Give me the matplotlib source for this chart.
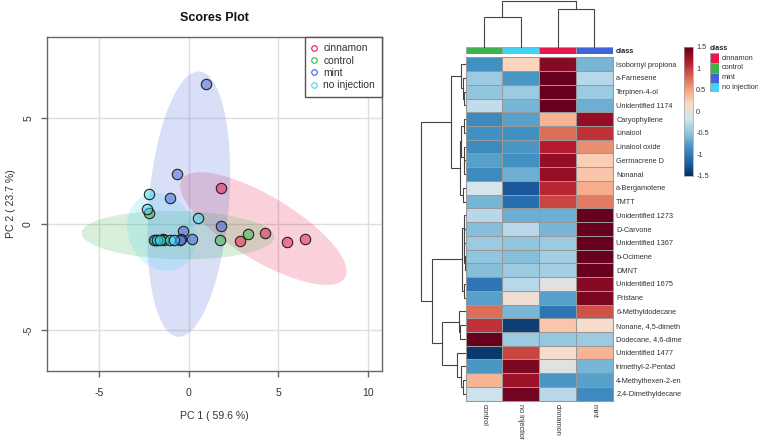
import numpy as np
import matplotlib
matplotlib.use("Agg")
import matplotlib.pyplot as plt
from matplotlib.colors import LinearSegmentedColormap
from matplotlib.lines import Line2D

plt.rcParams['font.family'] = ['Liberation Sans', 'DejaVu Sans']
plt.rcParams['axes.unicode_minus'] = False

W, H = 758, 440
classes = ["cinnamon", "control", "mint", "no injection"]
class_colors = ["#e6194B", "#3cb44b", "#4363d8", "#42d4f4"]

# scores: (PC1, PC2)
cinnamon_x = [1.79, 2.85, 4.28, 5.47, 6.50]
cinnamon_y = [1.73, -0.77, -0.41, -0.85, -0.68]
control_x = [-2.22, 1.77, 3.30, -1.45, -1.40, -1.88, -1.80]
control_y = [0.52, -0.74, -0.44, -0.69, -0.74, -0.72, -0.74]
mint_x = [0.98, -0.67, -1.03, 1.80, -0.30, 0.20, -0.43, -0.50]
mint_y = [6.64, 2.39, 1.25, -0.09, -0.33, -0.69, -0.69, -0.72]
noinj_x = [-2.20, -2.31, 0.50, -1.93, -1.78, -1.60, -1.05, -0.85]
noinj_y = [1.41, 0.72, 0.31, -0.74, -0.72, -0.72, -0.74, -0.74]

# ellipses: centre x, centre y, half-extent x, half-extent y, correlation
ell_cinnamon = (4.17, -0.20, 4.65, 2.66, -0.76)
ell_control = (-0.60, -0.51, 5.38, 1.14, -0.08)
ell_mint = (0.00, 0.95, 2.31, 6.26, 0.24)
ell_noinj = (-1.52, -0.36, 1.93, 1.84, -0.15)

# heatmap
col_labels = ["control", "no injection", "cinnamon", "mint"]
col_colors = ["#3cb44b", "#42d4f4", "#e6194B", "#4363d8"]
row_labels = ["Isobornyl propiona", "a-Farnesene", "Terpinen-4-ol", "Unidentified 1174",
              "Caryophyllene", "Linalool", "Linalool oxide", "Germacrene D", "Nonanal",
              "a-Bergamotene", "TMTT", "Unidentified 1273", "D-Carvone", "Unidentified 1367",
              "b-Ocimene", "DMNT", "Unidentified 1675", "Pristane", "6-Methyldodecane",
              "Nonane, 4,5-dimeth", "Dodecane, 4,6-dime", "Unidentified 1477",
              "trimethyl-2-Pentad", "4-Methylhexen-2-en", "2,4-Dimethyldecane"]
control_v = [-0.85, -0.45, -0.50, -0.25, -0.90, -0.85, -0.90, -0.75, -0.90, -0.12, -0.60, -0.30,
             -0.55, -0.45, -0.50, -0.55, -1.05, -0.75, 0.75, 1.05, 1.50, -1.45, -0.80, 0.40, -0.18]
noinj_v = [0.20, -0.80, -0.45, -0.60, -0.75, -0.85, -0.80, -0.85, -0.65, -1.25, -1.10, -0.65,
           -0.30, -0.50, -0.55, -0.45, -0.30, 0.08, -0.60, -1.40, -0.45, 0.95, 1.40, 1.25, 1.45]
cinnamon_v = [1.35, 1.50, 1.50, 1.50, 0.40, 0.75, 1.15, 1.30, 1.30, 1.10, 0.95, -0.65,
              -0.60, -0.45, -0.40, -0.40, -0.03, -0.75, -1.05, 0.30, -0.47, 0.12, -0.05, -0.80, -0.30]
mint_v = [-0.60, -0.30, -0.45, -0.65, 1.30, 1.05, 0.60, 0.25, 0.30, 0.45, 0.70, 1.50,
          1.50, 1.50, 1.50, 1.50, 1.35, 1.40, 0.90, 0.12, -0.45, 0.40, -0.60, -0.75, -0.90]
cbar_ticks = [1.5, 1, 0.5, 0, -0.5, -1, -1.5]
cbar_labels = ["1.5", "1", "0.5", "0", "-0.5", "-1", "-1.5"]

# dendrograms: (height, left, right); an int is a leaf
col_tree = (45.4, (29.4, 0, 1), (37.7, 2, 3))
row_tree = (44.3,
            (14.3,
             (4.3, 0, (1.8, 1, (0.6, 2, 3))),
             (5.5, (4.5, (1.2, 4, 5), (1.0, 6, (0.7, 7, 8))), (1.7, 9, 10))),
            (33.3,
             (3.3, (1.0, 11, (0.8, 12, (0.6, 13, (0.4, 14, 15)))), (1.0, 16, 17)),
             (23.3,
              (5.7, 18, (5.0, 19, 20)),
              (7.7, 21, (4.3, 22, (1.7, 23, 24))))))


def px_axes(x0, y0, x1, y1):
    return fig.add_axes([x0 / W, 1 - y1 / H, (x1 - x0) / W, (y1 - y0) / H])


fig = plt.figure(figsize=(W / 100, H / 100), dpi=100, facecolor="white")

# ------------------------------------------------------- scores plot
ax = px_axes(47, 36.7, 381.7, 371)
ax.set_xlim(-7.92, 10.78)
ax.set_ylim(-6.92, 8.85)
ax.set_axisbelow(True)
ax.grid(True, color="#dedede", lw=1.0)
t = np.linspace(0, 2 * np.pi, 300)
for e, c in zip([ell_cinnamon, ell_control, ell_mint, ell_noinj], class_colors):
    cx, cy, sx, sy, r = e
    ax.fill(cx + sx * np.cos(t), cy + sy * (r * np.cos(t) + np.sqrt(1 - r ** 2) * np.sin(t)),
            color=c, alpha=0.2, lw=0, zorder=1.5)
for xs, ys, c in zip([cinnamon_x, control_x, mint_x, noinj_x],
                     [cinnamon_y, control_y, mint_y, noinj_y], class_colors):
    ax.scatter(xs, ys, s=56, c=[matplotlib.colors.to_rgba(c, 0.5)],
               edgecolors="#222222", linewidths=0.8, zorder=3)
for s in ax.spines.values():
    s.set_color("#666666")
    s.set_linewidth(1.0)
ax.set_xticks([-5, 0, 5, 10])
ax.set_yticks([-5, 0, 5])
ax.tick_params(length=4, width=1, color="#666666", labelcolor="#333333", labelsize=7.6)
ax.tick_params(axis="x", pad=8)
ax.tick_params(axis="y", pad=6)
plt.setp(ax.get_yticklabels(), rotation=90, va="center")
fig.text(214 / W, 1 - 416 / H, "PC 1 ( 59.6 %)", fontsize=7.6, color="#333333", ha="center", va="center")
fig.text(11 / W, 1 - 204 / H, "PC 2 ( 23.7 %)", fontsize=7.6, color="#333333", ha="center", va="center", rotation=90)
fig.text(214 / W, 1 - 18 / H, "Scores Plot", fontsize=9, fontweight="bold",
         ha="center", va="center", color="#111111")
handles = [Line2D([], [], ls="", marker="o", mfc="none", mec=c, mew=0.8, ms=4) for c in class_colors]
leg = ax.legend(handles, classes, loc="upper right", bbox_to_anchor=(1, 1), borderaxespad=0,
                fontsize=7.4, fancybox=False, framealpha=1, edgecolor="#555555",
                labelspacing=0.22, handletextpad=0.75, borderpad=0.65, handlelength=0.35)
leg.get_frame().set_linewidth(1.0)
for tx in leg.get_texts():
    tx.set_color("#333333")
leg.set_zorder(5)

# ------------------------------------------------------- heatmap
cmap = LinearSegmentedColormap.from_list(
    "rb", ["#053061", "#2166AC", "#4393C3", "#92C5DE", "#D1E5F0",
           "#FDDBC7", "#F4A582", "#D6604D", "#B2182B", "#67001F"], N=256)
data = np.array([control_v, noinj_v, cinnamon_v, mint_v]).T
hx0, hx1, hy0, hy1 = 465.7, 612.7, 57.3, 400.7
hm = px_axes(hx0, hy0, hx1, hy1)
hm.pcolormesh(data, cmap=cmap, vmin=-1.5, vmax=1.5, zorder=1)
for k in range(len(row_labels) + 1):
    hm.axhline(k, color="#999999", lw=0.75, zorder=4, snap=True)
for k in range(5):
    hm.axvline(k, color="#999999", lw=0.75, zorder=4, snap=True)
hm.set_xlim(0, 4)
hm.set_ylim(len(row_labels), 0)
hm.set_xticks(np.arange(4) + 0.5)
hm.set_xticklabels(col_labels, rotation=270, ha="center", va="top")
hm.set_yticks(np.arange(len(row_labels)) + 0.5)
hm.set_yticklabels(row_labels)
hm.yaxis.tick_right()
hm.tick_params(length=0, labelsize=5.3, labelcolor="#333333", pad=2.5)
for s in hm.spines.values():
    s.set_color("#999999")
    s.set_linewidth(0.75)

# annotation bar
bar = px_axes(hx0, 47.3, hx1, 54)
for i, c in enumerate(col_colors):
    bar.bar(i + 0.5, 1, width=1, color=c, edgecolor="#a0a0a0", linewidth=0.6)
bar.set_xlim(0, 4)
bar.set_ylim(0, 1)
bar.axis("off")
fig.text(615.7 / W, 1 - 51 / H, "class", fontsize=5.3, fontweight="bold", va="center", color="#222222")


def draw(tree, axis, pos):
    """Draw a nested merge tree, return (centre, height)."""
    if isinstance(tree, int):
        return tree + 0.5, 0
    h, a, b = tree
    ca, ha = draw(a, axis, pos)
    cb, hb = draw(b, axis, pos)
    xs, ys = [ca, ca, cb, cb], [ha, h, h, hb]
    if pos == "top":
        axis.plot(xs, ys, color="#444444", lw=0.8, solid_joinstyle="miter")
    else:
        axis.plot(ys, xs, color="#444444", lw=0.8, solid_joinstyle="miter")
    return (ca + cb) / 2, h


top = px_axes(hx0, 1.3, hx1, 46.7)
draw(col_tree, top, "top")
top.set_xlim(0, 4)
top.set_ylim(0, 45.4)
top.axis("off")

left = px_axes(420.7, hy0, 465, hy1)
draw(row_tree, left, "left")
left.set_xlim(44.3, 0)
left.set_ylim(len(row_labels), 0)
left.axis("off")
for a in (top, left):
    for ln in a.lines:
        ln.set_clip_on(False)

# colour bar
cb = px_axes(683.7, 46.7, 692.7, 175.7)
cb.imshow(np.linspace(1.5, -1.5, 256)[:, None], cmap=cmap, vmin=-1.5, vmax=1.5,
          aspect="auto", extent=[0, 1, -1.5, 1.5])
cb.set_xticks([])
cb.yaxis.tick_right()
cb.set_yticks(cbar_ticks)
cb.set_yticklabels(cbar_labels)
cb.tick_params(length=0, labelsize=5.3, labelcolor="#333333", pad=2.5)
for s in cb.spines.values():
    s.set_color("#a0a0a0")
    s.set_linewidth(0.5)

# class legend
lg = px_axes(710, 53.3, 719.3, 92.3)
for i, (name, c) in enumerate(zip(classes, class_colors)):
    lg.bar(0.5, 1, bottom=i, width=1, color=c, edgecolor="#a0a0a0", linewidth=0.6)
    lg.text(1.25, i + 0.5, name, fontsize=5.3, va="center", ha="left", color="#333333", clip_on=False)
lg.set_xlim(0, 1)
lg.set_ylim(4, 0)
lg.axis("off")
fig.text(710 / W, 1 - 48.7 / H, "class", fontsize=5.3, fontweight="bold", va="center", color="#222222")

fig.savefig("out.png", dpi=100)
